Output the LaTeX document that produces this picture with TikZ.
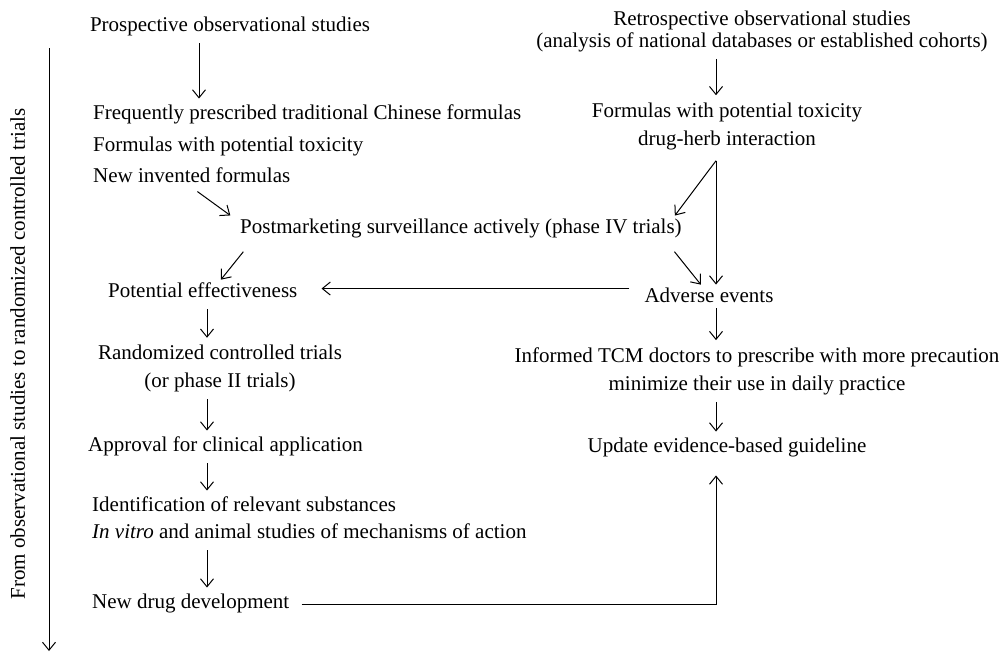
\documentclass[tikz,border=0pt]{standalone}
\usepackage{fontspec}
\setmainfont{Liberation Serif}
\usetikzlibrary{arrows.meta}

\tikzset{
  txt/.style={inner sep=0pt, font=\fontsize{21}{28}\selectfont},
  one/.style={txt, text height=14pt, text depth=4.5pt},
  two/.style={txt, align=center},
  arr/.style={-{Straight Barb[length=8pt,width=13pt]}, line width=1pt, shorten <=7pt, shorten >=7pt},
}

\begin{document}
\begin{tikzpicture}[x=1pt, y=-1pt]
   \useasboundingbox (0,0) rectangle (1005,653);

   % Columns used by the vertical arrows
   \coordinate (pcol) at (199,0);
   \coordinate (lcol) at (207,0);
   \coordinate (rcol) at (716,0);

   % Prospective branch
   \node[one] (prosp) at (230,27) {Prospective observational studies};
   \node[one, anchor=west] (freq) at (93,115) {Frequently prescribed traditional Chinese formulas};
   \node[one, anchor=west] (toxA) at (93,147) {Formulas with potential toxicity};
   \node[one, anchor=west] (newf) at (93,178) {New invented formulas};
   \node[one, anchor=west] (post) at (240,229) {Postmarketing surveillance actively (phase IV trials)};
   \node[one, anchor=west] (poteff) at (108,293) {Potential effectiveness};
   \node[two] (rct) at (220,368.5) {Randomized controlled trials\\(or phase II trials)};
   \node[one, anchor=west] (appr) at (88,447) {Approval for clinical application};
   \node[one, anchor=west] (ident) at (92,507) {Identification of relevant substances};
   \node[one, anchor=west] (invitro) at (92,534) {\textit{In vitro} and animal studies of mechanisms of action};
   \node[one, anchor=west] (newdrug) at (92,604) {New drug development};

   % Retrospective branch
   \node[two, font=\fontsize{21}{22}\selectfont] (retro) at (762,31) {Retrospective observational studies\\(analysis of national databases or established cohorts)};
   \node[two] (toxB) at (727,126) {Formulas with potential toxicity\\drug-herb interaction};
   \node[one] (adv) at (709,298) {Adverse events};
   \node[two] (inform) at (757,371) {Informed TCM doctors to prescribe with more precaution\\minimize their use in daily practice};
   \node[one] (update) at (727,448) {Update evidence-based guideline};

   % Side arrow
   \coordinate (sidetop) at (49,48);
   \coordinate (sidebot) at (49,651);
   \draw[arr, shorten <=0pt, shorten >=0pt] (sidetop) -- (sidebot);
   \node[one, rotate=90] (side) at (20,354) {From observational studies to randomized controlled trials};

   % Left connectors
   \draw[arr] (prosp.south -| pcol) -- (freq.north -| pcol);
   \draw[arr] (newf.south) -- ([xshift=-4pt]post.north west);
   \draw[arr, shorten <=17pt, shorten >=5pt] ([xshift=14pt]post.south west) -- ([xshift=15pt]poteff.north);
   \foreach \a/\b in {poteff/rct, rct/appr, appr/ident, invitro/newdrug}
       \draw[arr] (\a.south -| lcol) -- (\b.north -| lcol);

   % Right connectors
   \draw[arr] (retro.south -| rcol) -- (toxB.north -| rcol);
   \path (toxB.south -| rcol) ++(0,11) coordinate (fork);
   \draw[arr, shorten <=0pt, shorten >=4pt] (fork) -- (adv.north -| rcol);
   \draw[arr, shorten <=0pt, shorten >=5pt] (fork) -- ([xshift=-10pt]post.north east);
   \draw[arr, shorten <=17pt, shorten >=5pt] ([xshift=-18pt]post.south east) -- ([xshift=-5pt]adv.north);
   \draw[arr, shorten <=15pt, shorten >=24pt] (adv.north west) -- (adv.north west -| poteff.east);
   \draw[arr, shorten <=1pt] (adv.south -| rcol) -- (inform.north -| rcol);
   \draw[arr] (inform.south -| rcol) -- (update.north -| rcol);
   \draw[arr, shorten <=12pt, shorten >=18pt] (newdrug.east) -| (update.south -| rcol);
\end{tikzpicture}
\end{document}
